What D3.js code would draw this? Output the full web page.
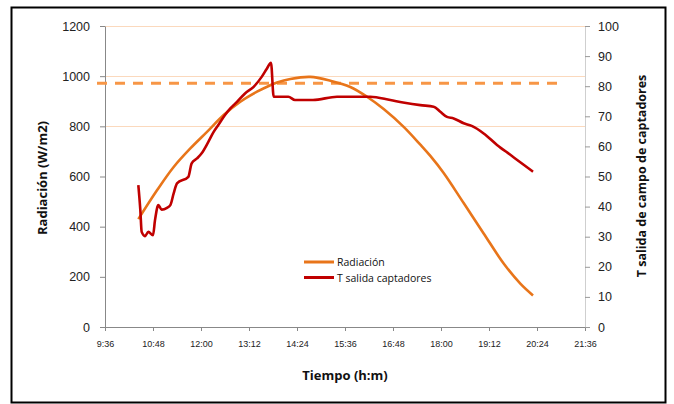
<!DOCTYPE html>
<html>
<head>
<meta charset="utf-8">
<script src="https://cdn.jsdelivr.net/npm/d3@7"></script>
<style>
  body { margin: 0; background: #fff; }
  svg { display: block; font-family: "Open Sans", "DejaVu Sans", sans-serif; }
</style>
</head>
<body>
<div id="chart"></div>
<script>
// radiation (W/m2), left axis
const radTimes = ["10:26","10:54","11:19","11:44","12:09","12:34","12:59","13:24","13:44","13:54","14:14","14:44","15:14","15:44","16:09","16:34","17:04","17:29","17:44","18:04","18:34","19:04","19:34","19:59","20:18"];
const radValues = [430,545,638,712,778,845,898,938,964,975,989,997,982,957,918,869,798,727,682,614,494,373,253,173,126];

// outlet temperature (°C), right axis
const tempTimes = ["10:26","10:29","10:31","10:36","10:41","10:48","10:51","10:56","11:01","11:09","11:14","11:19","11:24","11:41","11:46","11:54","12:01","12:11","12:19","12:26","12:36","12:44","12:54","13:06","13:19","13:31","13:39","13:45","13:49","14:11","14:21","14:48","15:24","16:14","16:44","17:03","17:29","17:49","17:59","18:09","18:19","18:34","18:46","19:04","19:24","19:44","20:04","20:18"];
const tempValues = [47.1,38.8,31.6,30.2,31.6,30.5,35.5,40.5,39.0,39.6,40.5,44.4,47.7,49.9,54.4,56.0,57.7,61.5,64.8,67.1,70.4,72.6,74.8,77.6,79.8,83.1,85.9,87.8,76.5,76.5,75.4,75.4,76.5,76.5,75.4,74.6,73.7,73.2,71.5,69.8,69.3,67.7,66.8,64.3,60.5,57.2,53.9,51.6];

const setpoint = 81; // dashed reference, right axis
const xTicks = ["9:36","10:48","12:00","13:12","14:24","15:36","16:48","18:00","19:12","20:24","21:36"];
const leftTicks = [0,200,400,600,800,1000,1200];
const rightTicks = [0,10,20,30,40,50,60,70,80,90,100];
const gridValues = [800,1000,1200];

const toHours = s => { const [h, m] = s.split(":").map(Number); return h + m / 60; };

const width = 674, height = 404;
const plot = { left: 105, right: 585, top: 26, bottom: 327 };

const svg = d3.select("#chart").append("svg")
    .attr("width", width)
    .attr("height", height);

svg.append("rect")
    .attr("x", 11.5).attr("y", 7.5)
    .attr("width", 654).attr("height", 395)
    .attr("fill", "#fff")
    .attr("stroke", "#000")
    .attr("stroke-width", 2);

const x = d3.scaleLinear().domain([9.6, 21.6]).range([plot.left, plot.right]);
const yL = d3.scaleLinear().domain([0, 1200]).range([plot.bottom, plot.top]);
const yR = d3.scaleLinear().domain([0, 100]).range([plot.bottom, plot.top]);

// gridlines
svg.append("g").selectAll("line")
    .data(gridValues)
    .join("line")
    .attr("x1", plot.left).attr("x2", plot.right)
    .attr("y1", d => Math.round(yL(d)) + 0.5)
    .attr("y2", d => Math.round(yL(d)) + 0.5)
    .attr("stroke", "#fbd9bd")
    .attr("stroke-width", 1);

// axes
const xAxis = svg.append("g")
    .attr("transform", `translate(0,${plot.bottom})`)
    .call(d3.axisBottom(x).tickValues(xTicks.map(toHours)).tickFormat((d, i) => xTicks[i]).tickSize(4).tickSizeOuter(0));
xAxis.select(".domain").attr("stroke", "#888");
xAxis.selectAll(".tick line").attr("stroke", "#888");
xAxis.selectAll("text").attr("font-size", 9).attr("fill", "#222").attr("dy", "1.45em");

const leftAxis = svg.append("g")
    .attr("transform", `translate(${plot.left},0)`)
    .call(d3.axisLeft(yL).tickValues(leftTicks).tickFormat(d3.format("d")).tickSize(5).tickSizeOuter(0));
leftAxis.select(".domain").attr("stroke", "#888");
leftAxis.selectAll(".tick line").attr("stroke", "#888");
leftAxis.selectAll("text").attr("font-size", 12.5).attr("fill", "#222").attr("x", -15);

const rightAxis = svg.append("g")
    .attr("transform", `translate(${plot.right},0)`)
    .call(d3.axisRight(yR).tickValues(rightTicks).tickSize(5).tickSizeOuter(0));
rightAxis.select(".domain").attr("stroke", "#cfcfcf");
rightAxis.selectAll(".tick line").attr("stroke", "#999");
rightAxis.selectAll("text").attr("font-size", 12.5).attr("fill", "#222").attr("x", 13);

// dashed setpoint line
svg.append("line")
    .attr("x1", 97).attr("x2", 562)
    .attr("y1", yR(setpoint)).attr("y2", yR(setpoint))
    .attr("stroke", "#f79646")
    .attr("stroke-width", 3)
    .attr("stroke-dasharray", "10,8");

const radData = radTimes.map((t, i) => ({ t: toHours(t), v: radValues[i] }));
const tempData = tempTimes.map((t, i) => ({ t: toHours(t), v: tempValues[i] }));

svg.append("path")
    .datum(radData)
    .attr("fill", "none")
    .attr("stroke", "#e8751a")
    .attr("stroke-width", 2.6)
    .attr("d", d3.line().x(d => x(d.t)).y(d => yL(d.v)).curve(d3.curveCatmullRom.alpha(0.5)));

svg.append("path")
    .datum(tempData)
    .attr("fill", "none")
    .attr("stroke", "#c00000")
    .attr("stroke-width", 2.6)
    .attr("stroke-linejoin", "round")
    .attr("d", d3.line().x(d => x(d.t)).y(d => yR(d.v)).curve(d3.curveMonotoneX));

// legend
const legendItems = [
    { label: "Radiación", color: "#e8751a" },
    { label: "T salida captadores", color: "#c00000" }
];
const legend = svg.append("g").attr("transform", "translate(304,262)");
legendItems.forEach((item, i) => {
    const row = legend.append("g").attr("transform", `translate(0,${i * 15.5})`);
    row.append("line")
        .attr("x1", 0).attr("x2", 30)
        .attr("stroke", item.color)
        .attr("stroke-width", 3);
    row.append("text")
        .attr("x", 33).attr("y", 4)
        .attr("font-size", 10.5)
        .attr("fill", "#111")
        .text(item.label);
});

// axis titles
svg.append("text")
    .attr("transform", "translate(47,178) rotate(-90)")
    .attr("text-anchor", "middle")
    .attr("font-size", 13)
    .attr("font-weight", "bold")
    .attr("fill", "#111")
    .text("Radiación (W/m2)");

svg.append("text")
    .attr("transform", "translate(646,176) rotate(-90)")
    .attr("text-anchor", "middle")
    .attr("font-size", 12.5)
    .attr("font-weight", "bold")
    .attr("fill", "#111")
    .text("T salida de campo de captadores");

svg.append("text")
    .attr("x", 345).attr("y", 380)
    .attr("text-anchor", "middle")
    .attr("font-size", 13)
    .attr("font-weight", "bold")
    .attr("fill", "#111")
    .text("Tiempo (h:m)");
</script>
</body>
</html>
